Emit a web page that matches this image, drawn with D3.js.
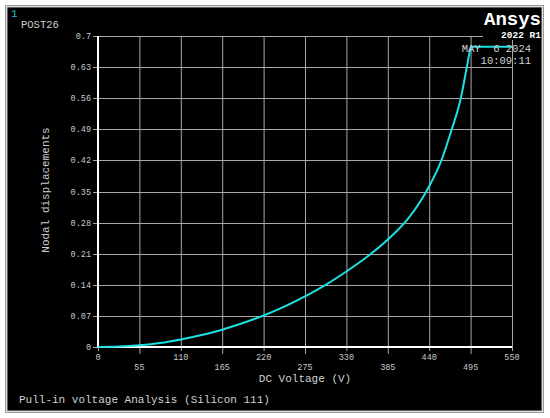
<!DOCTYPE html>
<html><head><meta charset="utf-8">
<script src="https://cdn.jsdelivr.net/npm/d3@7"></script>
<style>
html,body{margin:0;padding:0;background:#fff;}
svg{display:block;}
text{font-family:"Liberation Mono","Courier New",monospace;}
</style></head>
<body><svg id="c" width="550" height="418"></svg>
<script>
// ---- data ----
const voltage = [0, 27.5, 55, 82.5, 110, 137.5, 165, 192.5, 220, 247.5, 275, 302.5, 330, 357.5, 385, 412.5, 440, 455, 470, 482, 490, 494, 496, 550];
const displacement = [0, 0.001, 0.004, 0.009, 0.017, 0.027, 0.039, 0.054, 0.071, 0.091, 0.114, 0.140, 0.170, 0.203, 0.242, 0.290, 0.362, 0.415, 0.49, 0.56, 0.63, 0.665, 0.676, 0.676];
const xTicks = [0, 55, 110, 165, 220, 275, 330, 385, 440, 495, 550];
const yTicks = [0, 0.07, 0.14, 0.21, 0.28, 0.35, 0.42, 0.49, 0.56, 0.63, 0.7];
const yTickLabels = ["0", "0.07", "0.14", "0.21", "0.28", "0.35", "0.42", "0.49", "0.56", "0.63", "0.7"];

const svg = d3.select("#c");
// frame
svg.append("rect").attr("x",5.5).attr("y",5.5).attr("width",538).attr("height",407).attr("fill","none").attr("stroke","#9a9a9a").attr("stroke-width",1);
svg.append("rect").attr("x",7).attr("y",7).attr("width",535).attr("height",404).attr("fill","#000").attr("stroke","#bdbdbd").attr("stroke-width",1);

const x = d3.scaleLinear().domain([0,550]).range([98,512]);
const y = d3.scaleLinear().domain([0,0.7]).range([347,36]);

const grid = svg.append("g");
xTicks.forEach((t,i)=>{
  grid.append("line").attr("x1",x(t)+0.5).attr("x2",x(t)+0.5)
    .attr("y1",y(0.7)).attr("y2",347 + (i%2===1 ? 7 : 4))
    .attr("stroke","#a8a8a8").attr("stroke-width",1);
});
yTicks.forEach(t=>{
  grid.append("line").attr("x1",93).attr("x2",x(550))
    .attr("y1",Math.round(y(t))+0.5).attr("y2",Math.round(y(t))+0.5)
    .attr("stroke","#a8a8a8").attr("stroke-width",1);
});
// axes
svg.append("line").attr("x1",x(0)).attr("x2",x(0)).attr("y1",y(0.7)).attr("y2",y(0)+1).attr("stroke","#fff").attr("stroke-width",2);
svg.append("line").attr("x1",x(0)).attr("x2",x(550)).attr("y1",y(0)).attr("y2",y(0)).attr("stroke","#fff").attr("stroke-width",2);

// tick labels
xTicks.forEach((t,i)=>{
  svg.append("text").attr("x",x(t)).attr("y", i%2===1 ? 370 : 360)
    .attr("text-anchor","middle").attr("font-size",8.5).attr("fill","#c8c8c8").text(t);
});
yTicks.forEach((t,i)=>{
  svg.append("text").attr("x",91).attr("y",y(t)+3)
    .attr("text-anchor","end").attr("font-size",8.5).attr("fill","#c8c8c8").text(yTickLabels[i]);
});

// black box behind logo
svg.append("rect").attr("x",483).attr("y",9).attr("width",58).attr("height",31).attr("fill","#000");

// curve
const line = d3.line().x((d,i)=>x(voltage[i])).y((d,i)=>y(displacement[i])).curve(d3.curveMonotoneX);
svg.append("path").datum(displacement).attr("d",line).attr("fill","none").attr("stroke","#1de0e0").attr("stroke-width",2);

// texts
svg.append("text").attr("x",11).attr("y",17).attr("font-size",11).attr("fill","#22b8c8").text("1");
svg.append("text").attr("x",21).attr("y",28).attr("font-size",10.5).attr("fill","#d0d0d0").text("POST26");
svg.append("text").attr("x",531).attr("y",52).attr("text-anchor","end").attr("font-size",10.5).attr("fill","#d0d0d0").style("white-space","pre").text("MAY  6 2024");
svg.append("text").attr("x",531).attr("y",64).attr("text-anchor","end").attr("font-size",10.5).attr("fill","#d0d0d0").text("10:09:11");
svg.append("text").attr("x",541).attr("y",25).attr("text-anchor","end").attr("font-family","Liberation Sans, Arial, sans-serif").attr("font-weight","bold").attr("font-size",19).attr("fill","#fff").text("Ansys");
svg.append("text").attr("x",541).attr("y",38).attr("text-anchor","end").attr("font-family","Liberation Sans, Arial, sans-serif").attr("font-weight","bold").attr("font-size",9.5).attr("fill","#fff").text("2022 R1");
svg.append("text").attr("x",x(275)).attr("y",382).attr("text-anchor","middle").attr("font-size",11).attr("fill","#d0d0d0").text("DC Voltage (V)");
svg.append("text").attr("transform","translate(49,190) rotate(-90)").attr("text-anchor","middle").attr("font-size",11).attr("fill","#d0d0d0").text("Nodal displacements");
svg.append("text").attr("x",19).attr("y",403).attr("font-size",11).attr("fill","#d0d0d0").text("Pull-in voltage Analysis (Silicon 111)");
</script></body></html>
